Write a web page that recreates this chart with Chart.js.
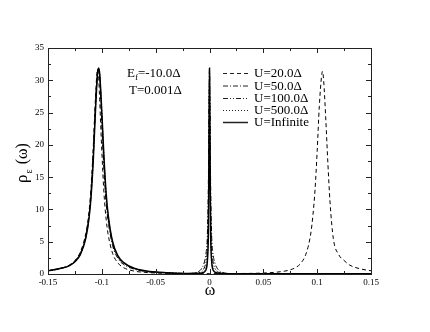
<!DOCTYPE html>
<html>
<head>
	<meta http-equiv="Content-Type" content="text/html; charset=utf-8"/>
	<script type="text/javascript" src="https://cdn.jsdelivr.net/npm/chart.js@4.4.1/dist/chart.umd.min.js"></script>
	<style type="text/css">
		html, body { margin: 0; padding: 0; background: #fff; }
		#chart { display: block; }
	</style>
</head>
<body>
	<canvas id="chart" width="430" height="332"></canvas>
	<script type="text/javascript">
		// omega values shared by the left (negative energy) peak of every curve
		var wLeft = [-0.15, -0.14, -0.13, -0.125, -0.12, -0.115, -0.112, -0.11, -0.108, -0.106, -0.104, -0.103, -0.102,
			-0.1, -0.098, -0.096, -0.094, -0.09, -0.085, -0.08, -0.07, -0.06, -0.05, -0.04, -0.03, -0.02];

		// U=20 : no central peak, second peak at +0.105
		var u20Right = [-0.01, 0, 0.01, 0.02, 0.03, 0.04, 0.05, 0.06, 0.07, 0.075, 0.08, 0.085, 0.09, 0.094, 0.096, 0.098,
			0.1, 0.102, 0.104, 0.105, 0.106, 0.108, 0.11, 0.112, 0.115, 0.12, 0.125, 0.13, 0.14, 0.15];
		var u20Left = [0.5, 0.8, 1.4, 2.1, 3.4, 6.2, 9.5, 13.5, 19.5, 27, 31.7, 30.5, 27, 19, 12.5, 8.5, 6, 3.2, 1.7, 1.0,
			0.45, 0.25, 0.15, 0.1, 0.07, 0.06];
		var u20RightVal = [0.06, 0.06, 0.06, 0.07, 0.08, 0.1, 0.15, 0.25, 0.45, 0.65, 1.0, 1.7, 3.3, 6.2, 9, 13, 19, 26,
			30.5, 31.4, 30, 24, 17, 11, 5.5, 3, 2.1, 1.4, 0.8, 0.5];

		// central (Kondo) region omegas
		var wMid50 = [-0.01, -0.0075, -0.005, -0.003, -0.002, -0.001, -0.0005, 0, 0.0005, 0.001, 0.002, 0.003, 0.005,
			0.0075, 0.01, 0.02, 0.05, 0.1, 0.15];
		var wMid = [-0.01, -0.005, -0.003, -0.002, -0.001, -0.0005, 0, 0.0005, 0.001, 0.002, 0.003, 0.005, 0.01, 0.02,
			0.05, 0.1, 0.15];

		var u50Left = [0.5, 0.8, 1.35, 2.0, 3.2, 5.8, 9, 12.8, 18.5, 26, 31.3, 31.7, 30.5, 23, 16, 11, 8, 4.4, 2.4, 1.5,
			0.75, 0.4, 0.25, 0.17, 0.11, 0.08];
		var u50Mid = [0.4, 0.8, 1.7, 3.5, 6, 15, 25, 31.6, 25, 15, 6, 3.5, 1.7, 0.8, 0.4, 0.06, 0.02, 0.02, 0.02];

		var u100Left = [0.5, 0.8, 1.3, 1.95, 3.1, 5.6, 8.7, 12.3, 18, 25.5, 31.2, 31.8, 30.8, 24.5, 17.5, 12, 8.7, 4.8,
			2.7, 1.7, 0.85, 0.45, 0.28, 0.18, 0.11, 0.08];
		var u100Mid = [0.2, 0.9, 2.2, 4, 11, 22, 31.7, 22, 11, 4, 2.2, 0.9, 0.2, 0.05, 0.02, 0.02, 0.02];

		var u500Left = [0.5, 0.8, 1.3, 1.9, 3.0, 5.5, 8.6, 12.1, 17.7, 25.2, 31.1, 31.8, 31, 25, 18, 12.3, 8.9, 4.9,
			2.75, 1.75, 0.88, 0.48, 0.29, 0.19, 0.11, 0.08];
		var u500Mid = [0.12, 0.4, 1.1, 2.5, 8, 19, 31.8, 19, 8, 2.5, 1.1, 0.4, 0.12, 0.05, 0.02, 0.02, 0.02];

		var uInfLeft = [0.5, 0.8, 1.3, 1.9, 3.0, 5.5, 8.5, 12, 17.5, 25, 31, 31.9, 31, 25, 18, 12.5, 9, 5, 2.8, 1.8,
			0.9, 0.5, 0.3, 0.2, 0.12, 0.08];
		var uInfMid = [0.1, 0.3, 0.8, 2, 7, 18, 31.9, 18, 7, 2, 0.8, 0.3, 0.1, 0.05, 0.02, 0.02, 0.02];

		var seriesNames = ["U=20.0\u0394", "U=50.0\u0394", "U=100.0\u0394", "U=500.0\u0394", "U=Infinite"];
		var xTicks = [-0.15, -0.1, -0.05, 0, 0.05, 0.1, 0.15];
		var yTicks = [0, 5, 10, 15, 20, 25, 30, 35];

		function puntos(xs, ys) {
			var out = [];
			for (var i = 0; i < xs.length; i++) out.push({x: xs[i], y: ys[i]});
			return out;
		}

		var serif = "'Liberation Serif', 'DejaVu Serif', serif";
		var dashes = [[4, 3], [5, 2, 1, 2], [5, 2, 1, 2, 1, 2], [1, 2], []];
		var widths = [1, 1, 1, 1, 1.5];

		var datos = [
			puntos(wLeft.concat(u20Right), u20Left.concat(u20RightVal)),
			puntos(wLeft.concat(wMid50), u50Left.concat(u50Mid)),
			puntos(wLeft.concat(wMid), u100Left.concat(u100Mid)),
			puntos(wLeft.concat(wMid), u500Left.concat(u500Mid)),
			puntos(wLeft.concat(wMid), uInfLeft.concat(uInfMid))
		];

		var datasets = [];
		for (var k = 0; k < datos.length; k++) {
			datasets.push({
				label: seriesNames[k],
				data: datos[k],
				showLine: true,
				borderColor: "#000",
				borderWidth: widths[k],
				borderDash: dashes[k],
				pointRadius: 0,
				cubicInterpolationMode: "monotone",
				fill: false
			});
		}

		var marco = {
			id: "marco",
			afterDraw: function (chart) {
				var ctx = chart.ctx, a = chart.chartArea;
				var sx = chart.scales.x, sy = chart.scales.y;
				ctx.save();
				ctx.strokeStyle = "#222";
				ctx.lineWidth = 1;
				ctx.setLineDash([]);
				ctx.strokeRect(Math.round(a.left) + 0.5, Math.round(a.top) + 0.5,
					Math.round(a.right - a.left), Math.round(a.bottom - a.top));
				ctx.beginPath();
				// x ticks, inward on bottom and top
				for (var v = -0.15; v <= 0.1501; v += 0.025) {
					var px = Math.round(sx.getPixelForValue(v)) + 0.5;
					var major = Math.abs(Math.round(v / 0.05) * 0.05 - v) < 1e-6;
					var len = major ? 5 : 3;
					ctx.moveTo(px, a.bottom); ctx.lineTo(px, a.bottom - len);
					ctx.moveTo(px, a.top); ctx.lineTo(px, a.top + len);
				}
				// y ticks, inward on left and right
				for (var y = 0; y <= 35; y += 2.5) {
					var py = Math.round(sy.getPixelForValue(y)) + 0.5;
					var len2 = (y % 5 === 0) ? 5 : 3;
					ctx.moveTo(a.left, py); ctx.lineTo(a.left + len2, py);
					ctx.moveTo(a.right, py); ctx.lineTo(a.right - len2, py);
				}
				ctx.stroke();

				// legend
				ctx.fillStyle = "#000";
				ctx.font = "13px " + serif;
				ctx.textBaseline = "middle";
				ctx.textAlign = "left";
				var rows = [73, 85.5, 98, 110, 122];
				for (var i = 0; i < seriesNames.length; i++) {
					ctx.beginPath();
					ctx.lineWidth = widths[i];
					ctx.setLineDash(dashes[i]);
					ctx.moveTo(223, rows[i] + 0.5);
					ctx.lineTo(248, rows[i] + 0.5);
					ctx.stroke();
					ctx.fillText(seriesNames[i], 254, rows[i] + 1);
				}
				ctx.setLineDash([]);

				// parameters
				ctx.fillText("E", 127, 74);
				var wE = ctx.measureText("E").width;
				ctx.font = "9px " + serif;
				ctx.fillText("f", 127 + wE, 78);
				var wF = ctx.measureText("f").width;
				ctx.font = "13px " + serif;
				ctx.fillText("=-10.0\u0394", 127 + wE + wF, 74);
				ctx.fillText("T=0.001\u0394", 129, 91);

				// axis titles
				ctx.font = "16px " + serif;
				ctx.textAlign = "center";
				ctx.fillText("\u03c9", 210, 291);

				ctx.translate(23, 156);
				ctx.rotate(-Math.PI / 2);
				ctx.textAlign = "left";
				ctx.font = "17px " + serif;
				var x0 = -27;
				ctx.fillText("\u03c1", x0, 0);
				var wr = ctx.measureText("\u03c1").width;
				ctx.font = "10px " + serif;
				ctx.fillText("\u03b5", x0 + wr + 1, 6);
				var we = ctx.measureText("\u03b5").width;
				ctx.font = "16px " + serif;
				ctx.fillText(" (\u03c9)", x0 + wr + we + 2, 0);
				ctx.restore();
			}
		};

		function etiqueta(v) {
			return String(Number(Number(v).toFixed(2)));
		}

		var canvas = document.getElementById("chart").getContext("2d");
		window.grafico = new Chart(canvas, {
			type: "scatter",
			data: {datasets: datasets},
			options: {
				responsive: false,
				animation: false,
				devicePixelRatio: 1,
				layout: {padding: {left: 0, right: 59, top: 48, bottom: 0}},
				plugins: {legend: {display: false}, tooltip: {enabled: false}},
				scales: {
					x: {
						type: "linear",
						min: -0.15,
						max: 0.15,
						afterFit: function (s) { s.height = 58; },
						afterBuildTicks: function (s) {
							s.ticks = xTicks.map(function (v) { return {value: v}; });
						},
						grid: {display: false, drawTicks: false},
						border: {display: false},
						ticks: {
							font: {family: serif, size: 9},
							color: "#000",
							padding: 3,
							maxRotation: 0,
							autoSkip: false,
							callback: etiqueta
						}
					},
					y: {
						min: 0,
						max: 35,
						afterFit: function (s) { s.width = 48; },
						afterBuildTicks: function (s) {
							s.ticks = yTicks.map(function (v) { return {value: v}; });
						},
						grid: {display: false, drawTicks: false},
						border: {display: false},
						ticks: {
							font: {family: serif, size: 9},
							color: "#000",
							padding: 4,
							autoSkip: false,
							callback: etiqueta
						}
					}
				}
			},
			plugins: [marco]
		});
	</script>
</body>
</html>
